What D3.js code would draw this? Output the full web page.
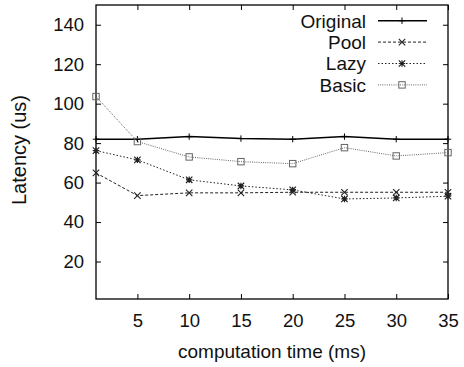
<!DOCTYPE html>
<html>
<head>
<meta charset="utf-8">
<script src="https://cdn.jsdelivr.net/npm/d3@7"></script>
<style>
  body { margin: 0; background: #fff; }
  text { font-family: "Liberation Sans", Arial, sans-serif; fill: #111; }
</style>
</head>
<body>
<div id="canvas"></div>
<script>
// computation time (ms) on the x axis
const times = [1, 5, 10, 15, 20, 25, 30, 35];
const xTicks = [5, 10, 15, 20, 25, 30, 35];
const yTicks = [20, 40, 60, 80, 100, 120, 140];

// latency (us) per series
const original = [82, 82, 83.3, 82.3, 82, 83.3, 82, 82];
const pool = [64.9, 53.4, 54.8, 54.8, 55.1, 55.1, 55.1, 55.1];
const lazy = [76.2, 71.5, 61.4, 58.3, 56.3, 51.7, 52.2, 53.1];
const basic = [103.6, 80.8, 73.0, 70.6, 69.6, 77.7, 73.5, 75.2];

const seriesNames = ["Original", "Pool", "Lazy", "Basic"];

const series = [
    {name: "Original", values: original, color: "#000", width: 1.5, dash: null, mark: "plus"},
    {name: "Pool", values: pool, color: "#222", width: 1, dash: "3,2", mark: "cross"},
    {name: "Lazy", values: lazy, color: "#222", width: 1, dash: "1.5,2", mark: "star"},
    {name: "Basic", values: basic, color: "#666", width: 1, dash: "1,1.2", mark: "square"}
];

const margin = {top: 5, right: 16, bottom: 68, left: 96},
    width = 464 - margin.left - margin.right,
    height = 367 - margin.top - margin.bottom;

const svg = d3.select("#canvas")
    .append("svg")
    .attr("width", 464)
    .attr("height", 367)
    .append("g")
    .attr("transform", "translate(" + margin.left + "," + margin.top + ")");

const x = d3.scaleLinear().domain([1, 35]).range([0, width]);
const y = d3.scaleLinear().domain([1, 150]).range([height, 0]);

// frame
svg.append("rect")
    .attr("width", width)
    .attr("height", height)
    .style("fill", "none")
    .style("stroke", "#000")
    .style("stroke-width", 1.3);

// ticks, mirrored on all four sides like gnuplot
const tl = 5;
svg.append("g")
    .attr("transform", "translate(0," + height + ")")
    .call(d3.axisBottom(x).tickValues(xTicks).tickSize(-tl).tickPadding(15))
    .call(g => g.select(".domain").remove());
svg.append("g")
    .call(d3.axisTop(x).tickValues(xTicks).tickSize(-tl).tickFormat(""))
    .call(g => g.select(".domain").remove());
svg.append("g")
    .call(d3.axisLeft(y).tickValues(yTicks).tickSize(-tl).tickPadding(12))
    .call(g => g.select(".domain").remove());
svg.append("g")
    .attr("transform", "translate(" + width + ",0)")
    .call(d3.axisRight(y).tickValues(yTicks).tickSize(-tl).tickFormat(""))
    .call(g => g.select(".domain").remove());

svg.selectAll(".tick line").style("stroke", "#000").style("stroke-width", 1);
svg.selectAll(".tick text")
    .style("font-size", "18.5px")
    .style("font-family", "'Liberation Sans', Arial, sans-serif")
    .style("fill", "#111");

// axis titles
svg.append("text")
    .attr("text-anchor", "middle")
    .attr("x", width / 2)
    .attr("y", height + 59)
    .style("font-size", "19px")
    .text("computation time (ms)");

svg.append("text")
    .attr("text-anchor", "middle")
    .attr("transform", "rotate(-90)")
    .attr("x", -150 + margin.top)
    .attr("y", -margin.left + 26)
    .style("font-size", "20px")
    .text("Latency (us)");

function drawMark(g, kind, cx, cy, color) {
    const s = 3.2;
    if (kind === "plus") {
        g.append("path").attr("d", `M${cx - s},${cy}H${cx + s}M${cx},${cy - s}V${cy + s}`)
            .style("stroke", color).style("stroke-width", 1);
    } else if (kind === "cross") {
        g.append("path").attr("d", `M${cx - s},${cy - s}L${cx + s},${cy + s}M${cx - s},${cy + s}L${cx + s},${cy - s}`)
            .style("stroke", color).style("stroke-width", 1.1);
    } else if (kind === "star") {
        g.append("path").attr("d", `M${cx - s},${cy - s}L${cx + s},${cy + s}M${cx - s},${cy + s}L${cx + s},${cy - s}M${cx - s},${cy}H${cx + s}M${cx},${cy - s}V${cy + s}`)
            .style("stroke", color).style("stroke-width", 1.2);
    } else {
        g.append("rect").attr("x", cx - s).attr("y", cy - s).attr("width", 2 * s).attr("height", 2 * s)
            .style("fill", "none").style("stroke", color).style("stroke-width", 1);
    }
}

const line = d3.line()
    .x((d, i) => x(times[i]))
    .y(d => y(d));

series.forEach(function(s) {
    const g = svg.append("g");
    g.append("path")
        .datum(s.values)
        .attr("d", line)
        .style("fill", "none")
        .style("stroke", s.color)
        .style("stroke-width", s.width)
        .style("stroke-dasharray", s.dash);
    s.values.forEach(function(v, i) {
        drawMark(g, s.mark, x(times[i]), y(v), s.color);
    });
});

// legend
const legend = svg.append("g");
series.forEach(function(s, i) {
    const ly = 15.7 + i * 21.4;
    legend.append("text")
        .attr("x", 270)
        .attr("y", ly)
        .attr("dy", "0.36em")
        .attr("text-anchor", "end")
        .style("font-size", "19px")
        .text(seriesNames[i]);
    legend.append("path")
        .attr("d", `M282,${ly}H331`)
        .style("stroke", s.color)
        .style("stroke-width", s.width)
        .style("stroke-dasharray", s.dash);
    drawMark(legend, s.mark, 306, ly, s.color);
});
</script>
</body>
</html>
